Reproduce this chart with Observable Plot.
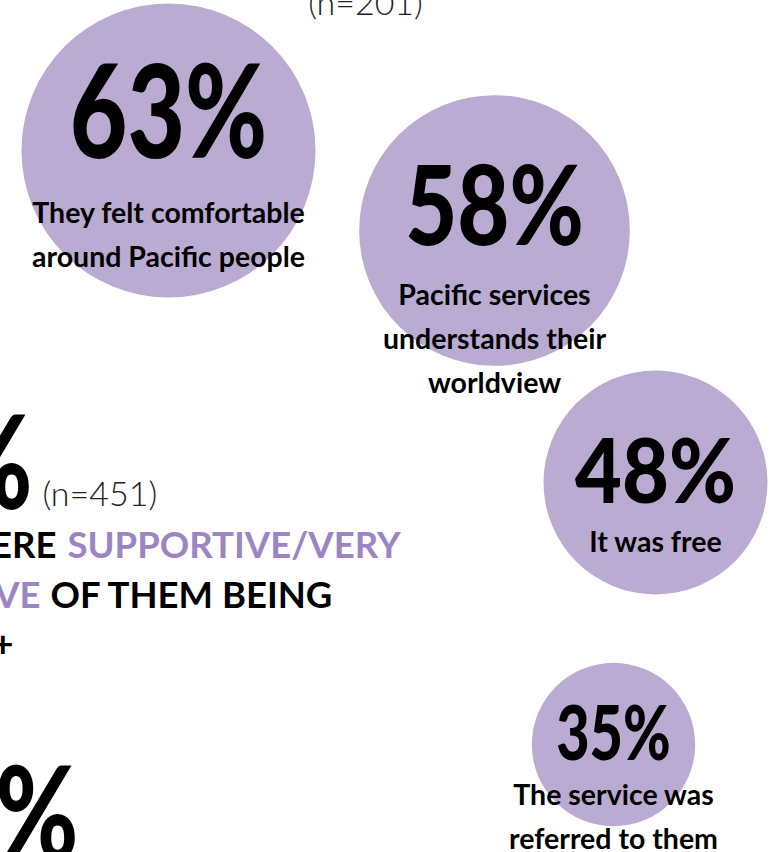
<!DOCTYPE html>
<html><head><meta charset="utf-8">
<script src="https://cdn.jsdelivr.net/npm/d3@7"></script>
<script src="https://cdn.jsdelivr.net/npm/@observablehq/plot@0.6"></script>
<style>
body{margin:0;background:#fff;overflow:hidden}
#chart svg{display:block;overflow:hidden}
</style>
</head><body><div id="chart"></div>
<script>
// ---- data ----
const values = [63, 58, 48, 35];
const valueLabels = ["63%", "58%", "48%", "35%"];
const reasons = [
  "They felt comfortable\naround Pacific people",
  "Pacific services\nunderstands their\nworldview",
  "It was free",
  "The service was\nreferred to them"
];
const sampleTop = "(n=201)";
const sampleMid = "(n=451)";
const headBlack1 = "THEY WERE";
const headPurple1 = "SUPPORTIVE/VERY";
const headPurple2 = "SUPPORTIVE";
const headBlack2 = "OF THEM BEING";
const headBlack3 = "MVPFAFF+";
const bigPercent = ["%", "%"];

// ---- layout (positions in page pixels) ----
const W = 773, H = 852;
const bubbleX = [168, 494, 655, 613];
const bubbleY = [150, 230, 482, 744];
const numberTop = [66, 166, 439, 706];
const numberSize = [129, 111, 90, 76];
const numberSqueeze = [0.77, 0.81, 0.9, 0.76];
const reasonTop = [191, 273, 520, 773];

const bubbles = values.map((v, i) => ({
  value: v, label: valueLabels[i], reason: reasons[i],
  x: bubbleX[i], y: bubbleY[i], ny: numberTop[i], ns: numberSize[i], ry: reasonTop[i]
}));

const lavender = "#baabd3";
const purple = "#9b86c3";

const chart = Plot.plot({
  width: W, height: H,
  margin: 0,
  x: {domain: [0, W], range: [0, W], axis: null},
  y: {domain: [0, H], range: [0, H], axis: null},
  r: {type: "linear", domain: [0, 63], range: [0, 147]},
  style: {fontFamily: "Lato, sans-serif", background: "#fff"},
  marks: [
    Plot.dot(bubbles, {x: "x", y: "y", r: "value", fill: lavender, stroke: "none"}),
    // text mark 0: big numbers
    Plot.text(bubbles, {x: "x", y: "ny", text: "label", fontSize: "ns", fontWeight: 900,
      fill: "#000", lineAnchor: "top", textAnchor: "middle"}),
    // text mark 1: reasons
    Plot.text(bubbles, {x: "x", y: "ry", text: "reason", fontSize: 28.5, fontWeight: 700,
      fill: "#000", lineAnchor: "top", lineHeight: 1.55, textAnchor: "middle"}),
    // text marks 2,3: partial n labels
    Plot.text([sampleTop], {x: () => 365, y: () => 14, text: d => d, fontSize: 34, fontWeight: 300,
      fill: "#222", lineAnchor: "bottom"}),
    Plot.text([sampleMid], {x: () => 42, y: () => 505, text: d => d, fontSize: 34, fontWeight: 300,
      fill: "#222", lineAnchor: "bottom", textAnchor: "start"}),
    // text mark 4: big partial percent signs
    Plot.text(bigPercent, {x: (d, i) => [32, 78][i], y: (d, i) => [417, 768][i], text: d => d,
      fontSize: 129, fontWeight: 900, fill: "#000", lineAnchor: "top", textAnchor: "end"}),
    // headline lines
    Plot.text([headBlack1], {x: () => 56, y: () => 557, text: d => d, fontSize: 36.5, fontWeight: 700,
      fill: "#000", lineAnchor: "bottom", textAnchor: "end"}),
    Plot.text([headPurple1], {x: () => 67, y: () => 557, text: d => d, fontSize: 36.5, fontWeight: 700,
      fill: purple, lineAnchor: "bottom", textAnchor: "start"}),
    Plot.text([headPurple2], {x: () => 40, y: () => 607, text: d => d, fontSize: 36.5, fontWeight: 700,
      fill: purple, lineAnchor: "bottom", textAnchor: "end"}),
    Plot.text([headBlack2], {x: () => 50, y: () => 607, text: d => d, fontSize: 36.5, fontWeight: 700,
      fill: "#000", lineAnchor: "bottom", textAnchor: "start"}),
    Plot.text([headBlack3], {x: () => 13, y: () => 656, text: d => d, fontSize: 36.5, fontWeight: 700,
      fill: "#000", lineAnchor: "bottom", textAnchor: "end"})
  ]
});

// condense glyphs horizontally to mimic the narrow geometric typeface
const textGroups = d3.select(chart).selectAll('g[aria-label="text"]').nodes();
function squeeze(group, sxFn) {
  if (!group) return;
  d3.select(group).selectAll("text").each(function(d, i) {
    const t = this.getAttribute("transform") || "";
    this.setAttribute("transform", t + ` scale(${sxFn(i)},1)`);
  });
}
squeeze(textGroups[0], i => numberSqueeze[i]);
squeeze(textGroups[4], () => 0.78);

document.getElementById("chart").append(chart);
</script>
</body></html>
